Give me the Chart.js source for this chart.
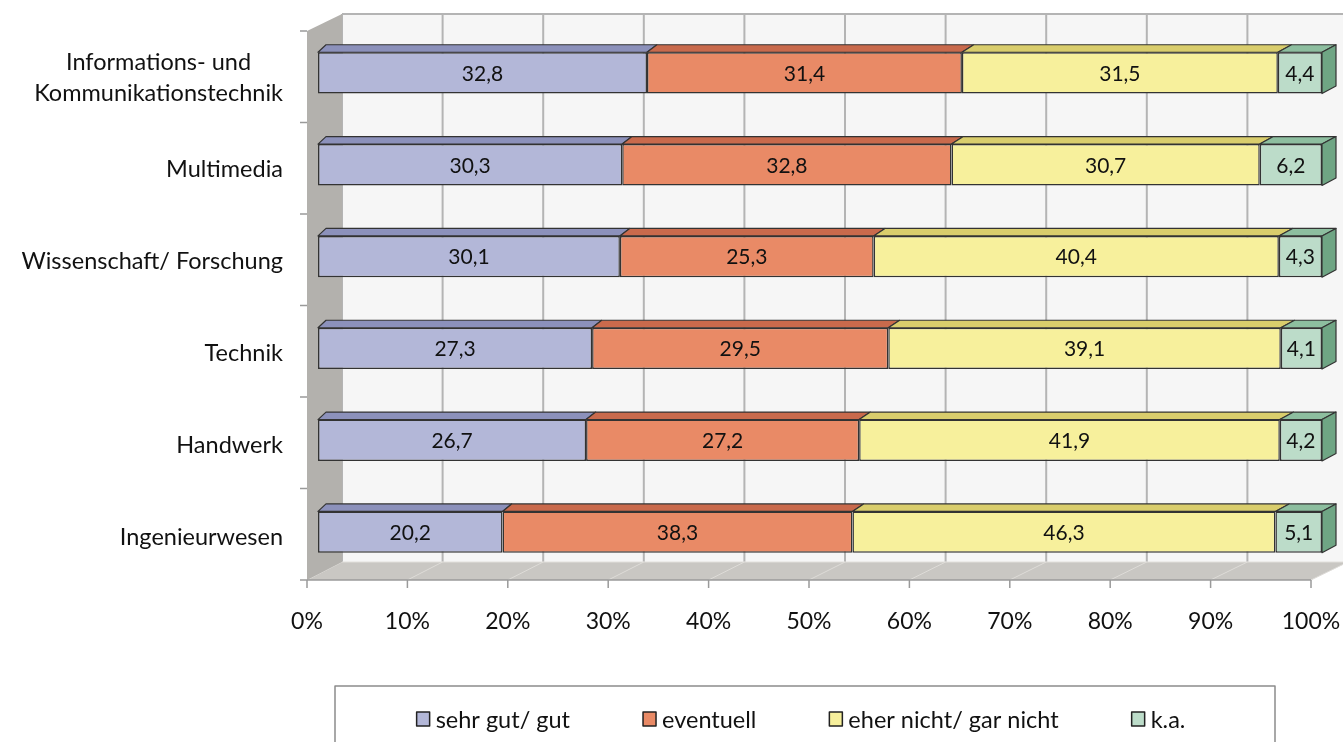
<!DOCTYPE html>
<html lang="de">
<head>
<meta charset="utf-8">
<title>Berufsfelder – Interesse</title>
<script src="https://cdn.jsdelivr.net/npm/chart.js@4.4.1/dist/chart.umd.min.js"></script>
<style>
  html, body { margin: 0; padding: 0; background: #ffffff; }
  #wrap { position: relative; width: 1343px; height: 742px; }
</style>
</head>
<body>
<div id="wrap"><canvas id="chart" width="1343" height="742"></canvas></div>
<script>
// Categories (top to bottom) and answer shares per category
const categories = [
  ["Informations- und", "Kommunikationstechnik"],
  "Multimedia",
  "Wissenschaft/ Forschung",
  "Technik",
  "Handwerk",
  "Ingenieurwesen"
];
const seriesNames = ["sehr gut/ gut", "eventuell", "eher nicht/ gar nicht", "k.a."];
const sehrGut   = [32.8, 30.3, 30.1, 27.3, 26.7, 20.2];
const eventuell = [31.4, 32.8, 25.3, 29.5, 27.2, 38.3];
const eherNicht = [31.5, 30.7, 40.4, 39.1, 41.9, 46.3];
const keineAng  = [4.4, 6.2, 4.3, 4.1, 4.2, 5.1];
const xTicks    = [0, 10, 20, 30, 40, 50, 60, 70, 80, 90, 100];

const FONT = "Lato, 'Open Sans', sans-serif";
const frontColors = ["#b3b7d8", "#e98a66", "#f7f09c", "#bcdcc9"];
const topColors   = ["#8c91bb", "#c96a4c", "#d9cd6c", "#8dbe9f"];
const sideColors  = ["#8c91bb", "#c96a4c", "#d9cd6c", "#6fa584"];

const raw = [sehrGut, eventuell, eherNicht, keineAng];
// 100 % stacking: each row is scaled to its own total
const totals = categories.map((_, i) => raw.reduce((s, arr) => s + arr[i], 0));
const shares = raw.map(arr => arr.map((v, i) => v / totals[i] * 100));

const fmt = v => v.toFixed(1).replace('.', ',');

// 3D offsets of the bar depth (slight perspective towards the right)
function barDepth(chart, x) {
  const a = chart.chartArea;
  const t = (x - a.left) / (a.right - a.left);
  return { dx: 8 + 6 * t, dy: -7.5 };
}

const scene3d = {
  id: 'scene3d',
  beforeDatasetsDraw(chart) {
    const ctx = chart.ctx;
    const xs = chart.scales.x;
    const a = chart.chartArea;
    const fTop = a.top + 4, fBot = a.bottom + 2;     // front plane
    const bTop = fTop - 17, bBot = fBot - 18;        // back plane
    const fx = v => xs.getPixelForValue(v) - 11;
    const bx = v => xs.getPixelForValue(v) + 24 + v * 0.02;

    ctx.save();
    // back wall
    ctx.fillStyle = '#f6f6f6';
    ctx.fillRect(bx(0), bTop, chart.width - bx(0), bBot - bTop);
    // back wall grid lines
    ctx.strokeStyle = '#b4b4b4';
    ctx.lineWidth = 2;
    xTicks.forEach(v => {
      ctx.beginPath();
      ctx.moveTo(bx(v), bTop);
      ctx.lineTo(bx(v), bBot);
      ctx.stroke();
    });
    ctx.beginPath();
    ctx.moveTo(bx(0), bTop);
    ctx.lineTo(chart.width, bTop);
    ctx.stroke();

    // floor
    ctx.fillStyle = '#c9c7c3';
    ctx.beginPath();
    ctx.moveTo(fx(0), fBot);
    ctx.lineTo(bx(0), bBot);
    ctx.lineTo(bx(100), bBot);
    ctx.lineTo(fx(100), fBot);
    ctx.closePath();
    ctx.fill();
    ctx.strokeStyle = '#dedcd8';
    ctx.lineWidth = 1;
    xTicks.forEach(v => {
      ctx.beginPath();
      ctx.moveTo(fx(v), fBot);
      ctx.lineTo(bx(v), bBot);
      ctx.stroke();
    });
    ctx.strokeStyle = '#e2e0dc';
    ctx.beginPath();
    ctx.moveTo(bx(0), bBot);
    ctx.lineTo(bx(100), bBot);
    ctx.stroke();

    // left wall
    ctx.fillStyle = '#b3b1ad';
    ctx.beginPath();
    ctx.moveTo(fx(0), fTop);
    ctx.lineTo(bx(0), bTop);
    ctx.lineTo(bx(0), bBot);
    ctx.lineTo(fx(0), fBot);
    ctx.closePath();
    ctx.fill();

    // front axes with tick marks
    ctx.strokeStyle = '#9a9a9a';
    ctx.lineWidth = 1.5;
    ctx.beginPath();
    ctx.moveTo(fx(0), fBot);
    ctx.lineTo(fx(100), fBot);
    ctx.stroke();
    xTicks.forEach(v => {
      ctx.beginPath();
      ctx.moveTo(fx(v), fBot);
      ctx.lineTo(fx(v), fBot + 8);
      ctx.stroke();
    });
    const step = (fBot - fTop) / categories.length;
    for (let i = 0; i <= categories.length; i++) {
      const y = fTop + i * step;
      ctx.beginPath();
      ctx.moveTo(fx(0) - 7, y);
      ctx.lineTo(fx(0), y);
      ctx.stroke();
    }

    // category labels
    ctx.fillStyle = '#111';
    ctx.font = '23.5px ' + FONT;
    ctx.textBaseline = 'middle';
    const ys = chart.scales.y;
    categories.forEach((c, i) => {
      const y = ys.getPixelForValue(i) + 5;
      const xr = fx(0) - 24;
      if (Array.isArray(c)) {
        const w = Math.max(...c.map(s => ctx.measureText(s).width));
        ctx.textAlign = 'center';
        const cx = xr - w / 2;
        const lh = 31;
        c.forEach((s, k) => ctx.fillText(s, cx, y + (k - (c.length - 1) / 2) * lh));
      } else {
        ctx.textAlign = 'right';
        ctx.fillText(c, xr, y);
      }
    });
    ctx.restore();
  },
  afterDatasetsDraw(chart) {
    const ctx = chart.ctx;
    const n = chart.data.datasets.length;
    ctx.save();
    ctx.lineJoin = 'round';
    // top faces and end faces of the bars
    for (let d = 0; d < n; d++) {
      const meta = chart.getDatasetMeta(d);
      meta.data.forEach(el => {
        const x0 = Math.min(el.base, el.x), x1 = Math.max(el.base, el.x);
        const yt = el.y - el.height / 2, yb = el.y + el.height / 2;
        const d0 = barDepth(chart, x0), d1 = barDepth(chart, x1);
        ctx.fillStyle = topColors[d];
        ctx.strokeStyle = '#333';
        ctx.lineWidth = 1.2;
        ctx.beginPath();
        ctx.moveTo(x0, yt);
        ctx.lineTo(x0 + d0.dx, yt + d0.dy);
        ctx.lineTo(x1 + d1.dx, yt + d1.dy);
        ctx.lineTo(x1, yt);
        ctx.closePath();
        ctx.fill();
        ctx.stroke();
        if (d === n - 1) {
          ctx.fillStyle = sideColors[d];
          ctx.beginPath();
          ctx.moveTo(x1, yt);
          ctx.lineTo(x1 + d1.dx, yt + d1.dy);
          ctx.lineTo(x1 + d1.dx, yb + d1.dy);
          ctx.lineTo(x1, yb);
          ctx.closePath();
          ctx.fill();
          ctx.stroke();
        }
      });
    }
    // value labels
    ctx.fillStyle = '#111';
    ctx.font = '21px ' + FONT;
    ctx.textAlign = 'center';
    ctx.textBaseline = 'middle';
    for (let d = 0; d < n; d++) {
      const meta = chart.getDatasetMeta(d);
      meta.data.forEach((el, i) => {
        const cx = (el.base + el.x) / 2;
        ctx.fillText(fmt(raw[d][i]), cx, el.y + 1);
      });
    }
    // legend
    const lx0 = 335, lx1 = 1275, ly0 = 686;
    ctx.strokeStyle = '#8c8c8c';
    ctx.lineWidth = 1.5;
    ctx.strokeRect(lx0, ly0, lx1 - lx0, chart.height - ly0 + 5);
    ctx.font = '23.5px ' + FONT;
    ctx.textAlign = 'left';
    const widths = seriesNames.map(s => 14 + 5 + ctx.measureText(s).width);
    const gap = 73;
    const total = widths.reduce((s, w) => s + w, 0) + gap * (widths.length - 1);
    let x = (lx0 + lx1) / 2 - total / 2 - 4;
    const ly = 719;
    seriesNames.forEach((s, k) => {
      ctx.fillStyle = frontColors[k];
      ctx.fillRect(x, ly - 7, 13, 14);
      ctx.strokeStyle = '#222';
      ctx.lineWidth = 1.5;
      ctx.strokeRect(x, ly - 7, 13, 14);
      ctx.fillStyle = '#111';
      ctx.fillText(s, x + 19, ly + 1);
      x += widths[k] + gap;
    });
    ctx.restore();
  }
};

new Chart(document.getElementById('chart'), {
  type: 'bar',
  data: {
    labels: categories,
    datasets: seriesNames.map((name, k) => ({
      label: name,
      data: shares[k],
      backgroundColor: frontColors[k],
      borderColor: '#333',
      borderWidth: 1.5,
      borderSkipped: false,
      barPercentage: 0.45,
      categoryPercentage: 1.0
    }))
  },
  options: {
    indexAxis: 'y',
    responsive: false,
    animation: false,
    layout: { padding: { left: 318, right: 21, top: 27, bottom: 104 } },
    plugins: {
      legend: { display: false },
      tooltip: { enabled: false }
    },
    scales: {
      x: {
        stacked: true,
        min: 0,
        max: 100,
        afterBuildTicks: s => { s.ticks = xTicks.map(v => ({ value: v })); },
        afterFit: s => { s.height = 60; s.paddingLeft = 0; s.paddingRight = 0; },
        grid: { display: false },
        border: { display: false },
        ticks: {
          padding: 22,
          labelOffset: -11,
          color: '#111',
          font: { family: FONT, size: 23 },
          callback: v => v + '%'
        }
      },
      y: {
        stacked: true,
        display: false
      }
    }
  },
  plugins: [scene3d]
});
</script>
</body>
</html>
